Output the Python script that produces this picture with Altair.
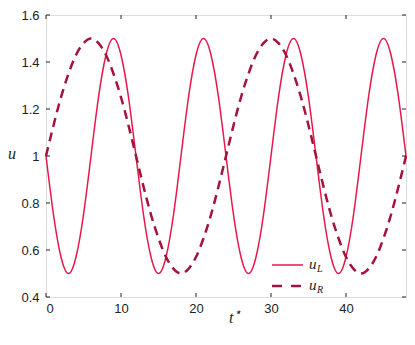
import altair as alt
import pandas as pd

t = list(range(0, 49))
u_L = [1.00, 0.75, 0.57, 0.50, 0.57, 0.75, 1.00, 1.25, 1.43, 1.50, 1.43, 1.25,
       1.00, 0.75, 0.57, 0.50, 0.57, 0.75, 1.00, 1.25, 1.43, 1.50, 1.43, 1.25,
       1.00, 0.75, 0.57, 0.50, 0.57, 0.75, 1.00, 1.25, 1.43, 1.50, 1.43, 1.25,
       1.00, 0.75, 0.57, 0.50, 0.57, 0.75, 1.00, 1.25, 1.43, 1.50, 1.43, 1.25,
       1.00]
u_R = [1.00, 1.13, 1.25, 1.35, 1.43, 1.48, 1.50, 1.48, 1.43, 1.35, 1.25, 1.13,
       1.00, 0.87, 0.75, 0.65, 0.57, 0.52, 0.50, 0.52, 0.57, 0.65, 0.75, 0.87,
       1.00, 1.13, 1.25, 1.35, 1.43, 1.48, 1.50, 1.48, 1.43, 1.35, 1.25, 1.13,
       1.00, 0.87, 0.75, 0.65, 0.57, 0.52, 0.50, 0.52, 0.57, 0.65, 0.75, 0.87,
       1.00]
x_ticks = [0, 10, 20, 30, 40]
y_ticks = [0.4, 0.6, 0.8, 1.0, 1.2, 1.4, 1.6]

W, H = 360, 282
C_L = "#E8174A"
C_R = "#A3133C"

df = pd.DataFrame({"t": t, "u_L": u_L, "u_R": u_R})
xs = alt.Scale(domain=[0, 48], nice=False, zero=False)
ys = alt.Scale(domain=[0.4, 1.6], nice=False, zero=False)

xaxis = alt.Axis(values=x_ticks, ticks=False, domain=False, grid=False, labelFontSize=13,
                 labelFont="Liberation Sans", labelColor="#222", labelPadding=5, title=None,
                 format="d")
yaxis = alt.Axis(values=y_ticks, ticks=False, domain=False, grid=False, labelFontSize=13,
                 labelFont="Liberation Sans", labelColor="#222", labelPadding=7, title=None,
                 labelExpr="datum.value == 1 ? '1' : format(datum.value, '.1f')")

lineL = alt.Chart(df).mark_line(color=C_L, strokeWidth=1.5, interpolate="natural").encode(
    x=alt.X("t:Q", scale=xs, axis=xaxis),
    y=alt.Y("u_L:Q", scale=ys, axis=yaxis),
)
lineR = alt.Chart(df).mark_line(color=C_R, strokeWidth=2.5, strokeDash=[9, 6],
                               interpolate="natural").encode(
    x=alt.X("t:Q", scale=xs),
    y=alt.Y("u_R:Q", scale=ys),
)

xt = pd.DataFrame({"v": x_ticks})
yt = pd.DataFrame({"v": y_ticks})
tk = dict(color="#222", strokeWidth=1)
xb = alt.Chart(xt).mark_rule(**tk).encode(x=alt.X("v:Q", scale=xs), y=alt.value(H), y2=alt.value(H - 4))
xtp = alt.Chart(xt).mark_rule(**tk).encode(x=alt.X("v:Q", scale=xs), y=alt.value(0), y2=alt.value(4))
yl = alt.Chart(yt).mark_rule(**tk).encode(y=alt.Y("v:Q", scale=ys), x=alt.value(0), x2=alt.value(4))
yr = alt.Chart(yt).mark_rule(**tk).encode(y=alt.Y("v:Q", scale=ys), x=alt.value(W), x2=alt.value(W - 4))

one = pd.DataFrame({"a": [0]})
leg1 = alt.Chart(one).mark_rule(color=C_L, strokeWidth=1.5).encode(
    x=alt.value(226), x2=alt.value(257), y=alt.value(250))
leg2 = alt.Chart(one).mark_rule(color=C_R, strokeWidth=2.5, strokeDash=[10, 9]).encode(
    x=alt.value(226), x2=alt.value(256), y=alt.value(271))
ital = dict(font="Liberation Serif", fontStyle="italic", color="#222", align="left", baseline="alphabetic")
t1 = alt.Chart(one).mark_text(fontSize=15, **ital).encode(x=alt.value(263), y=alt.value(254), text=alt.value("u"))
t1s = alt.Chart(one).mark_text(fontSize=10, **ital).encode(x=alt.value(271), y=alt.value(257), text=alt.value("L"))
t2 = alt.Chart(one).mark_text(fontSize=15, **ital).encode(x=alt.value(263), y=alt.value(275), text=alt.value("u"))
t2s = alt.Chart(one).mark_text(fontSize=10, **ital).encode(x=alt.value(271), y=alt.value(278), text=alt.value("R"))

xt_title = alt.Chart(one).mark_text(fontSize=16, **ital).encode(x=alt.value(183), y=alt.value(308), text=alt.value("t"))
xt_star = alt.Chart(one).mark_text(fontSize=12, **ital).encode(x=alt.value(188), y=alt.value(301), text=alt.value("⋆"))
yt_title = alt.Chart(one).mark_text(fontSize=16, **ital).encode(x=alt.value(-38), y=alt.value(144), text=alt.value("u"))

chart = alt.layer(lineL, lineR, xb, xtp, yl, yr, leg1, leg2, t1, t1s, t2, t2s,
                  xt_title, xt_star, yt_title).properties(
    width=W, height=H,
    autosize=alt.AutoSizeParams(type="none"),
    padding={"left": 38, "top": 7, "right": 1, "bottom": 29},
).configure_view(stroke="#222", strokeWidth=1.2).configure(background="white")

chart.save("out.html", embed_options={"renderer": "svg", "actions": False})
